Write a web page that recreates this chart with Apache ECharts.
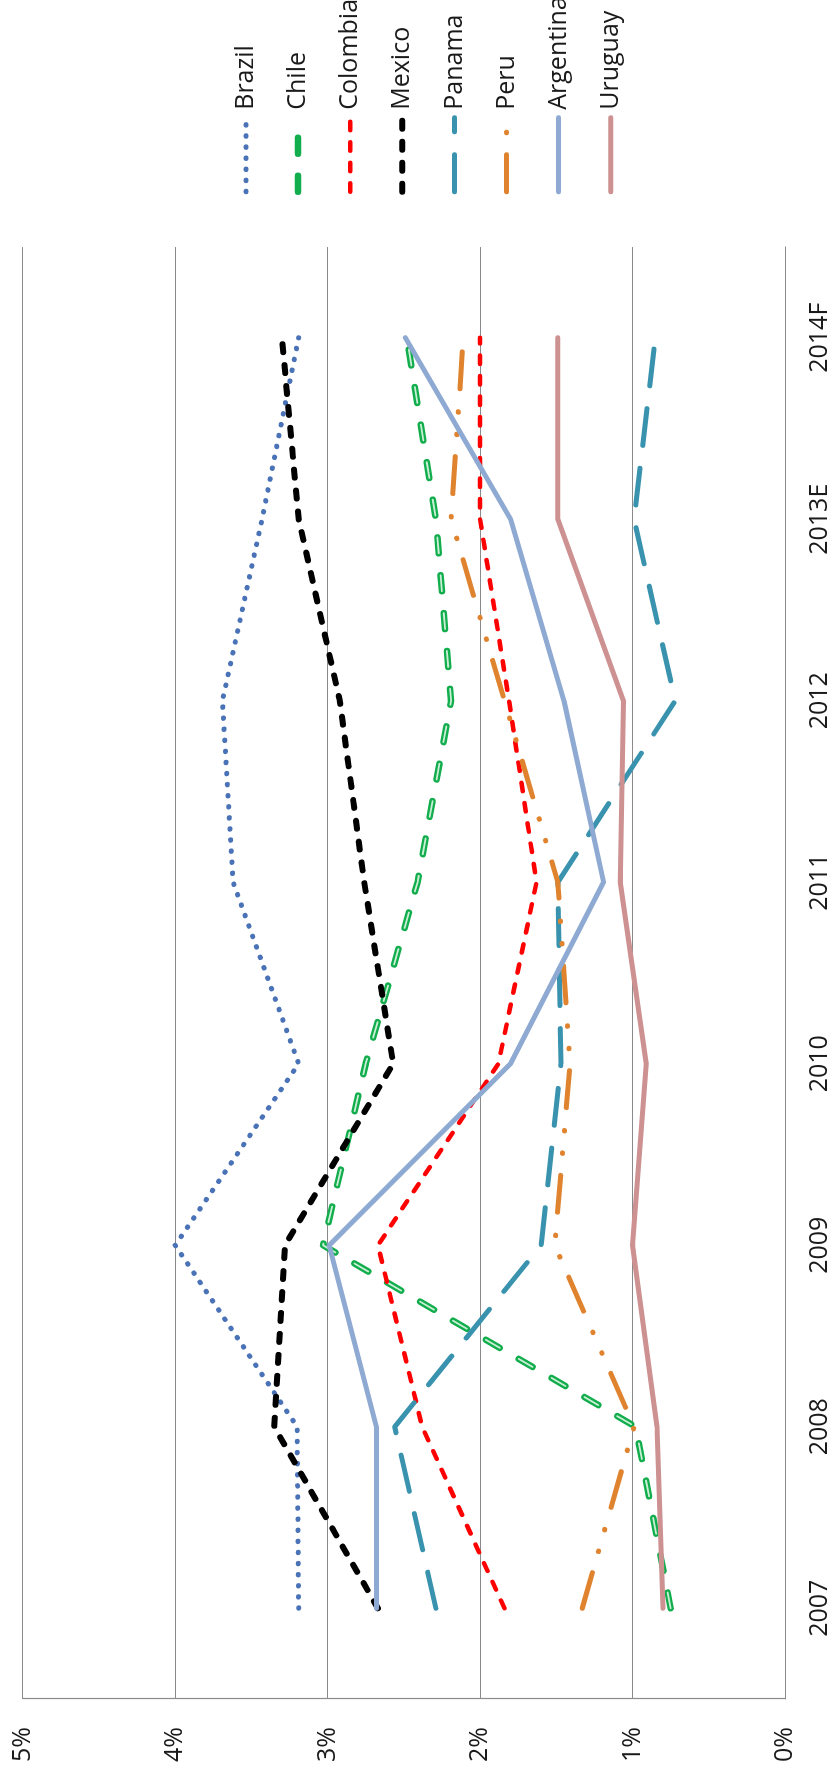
<!DOCTYPE html>
<html>
<head>
<meta charset="utf-8">
<script src="https://cdn.jsdelivr.net/npm/echarts@6/dist/echarts.min.js"></script>
<style>
html,body{margin:0;padding:0;background:#fff;width:832px;height:1776px;overflow:hidden;}
#chart{position:absolute;left:0;top:0;width:1776px;height:832px;transform-origin:0 0;transform:translate(0,1776px) rotate(-90deg);}
</style>
</head>
<body>
<div id="chart"></div>
<script>
// Data (values in %)
const categories = ['2007','2008','2009','2010','2011','2012','2013E','2014F'];
const brazil    = [3.19, 3.20, 4.00, 3.19, 3.62, 3.69, 3.43, 3.19];
const chile     = [0.75, 0.98, 3.03, 2.75, 2.41, 2.19, 2.29, 2.48];
const colombia  = [1.84, 2.38, 2.67, 1.88, 1.63, 1.81, 2.00, 2.00];
const mexico    = [2.67, 3.35, 3.28, 2.57, 2.76, 2.92, 3.19, 3.30];
const panama    = [2.29, 2.56, 1.60, 1.47, 1.49, 0.72, 0.99, 0.85];
const peru      = [1.33, 0.99, 1.51, 1.41, 1.49, 1.84, 2.19, 2.11];
const argentina = [2.68, 2.68, 2.99, 1.80, 1.19, 1.45, 1.80, 2.49];
const uruguay   = [0.80, 0.84, 1.00, 0.91, 1.08, 1.06, 1.49, 1.49];
const seriesNames = ['Brazil','Chile','Colombia','Mexico','Panama','Peru','Argentina','Uruguay'];
const valueTicks = [0, 1, 2, 3, 4, 5];

const FONT = '"Open Sans", sans-serif';
const styles = {
  Brazil:    { color: '#4a72b6', width: 5,   dash: [0.5, 10.6] },
  Chile:     { color: '#12ad4c', width: 6.5, dash: [16, 22] },
  Colombia:  { color: '#ff0000', width: 4.5, dash: [8.5, 12] },
  Mexico:    { color: '#000000', width: 6,   dash: [8, 13] },
  Panama:    { color: '#3a93ae', width: 5,   dash: [37, 23] },
  Peru:      { color: '#e0832f', width: 5,   dash: [37, 22, 0.5, 22, 0.5, 23] },
  Argentina: { color: '#8ea9d2', width: 5,   dash: 'solid' },
  Uruguay:   { color: '#cd9191', width: 5,   dash: 'solid' }
};
function mk(name, data, st, extra) {
  return Object.assign({
    name: name, type: 'line', data: data,
    symbol: 'none', showSymbol: false, animation: false,
    lineStyle: { color: st.color, width: st.width, type: st.dash, cap: 'round', join: 'round' },
    itemStyle: { color: st.color },
    emphasis: { disabled: true }
  }, extra || {});
}

const chart = echarts.init(document.getElementById('chart'), null, { width: 1776, height: 832 });
chart.setOption({
  backgroundColor: '#ffffff',
  animation: false,
  grid: { left: 77, right: 247, top: 22.7, bottom: 46, containLabel: false },
  legend: {
    orient: 'vertical',
    left: 1576, top: 228,
    itemWidth: 74, itemHeight: 26, itemGap: 26.1,
    data: seriesNames.map(n => ({
      name: n,
      itemStyle: { opacity: 0 },
      lineStyle: { color: styles[n].color, width: styles[n].width, type: styles[n].dash, cap: 'round', opacity: 1 }
    })),
    textStyle: { fontFamily: FONT, fontSize: 25, color: '#1a1a1a', lineHeight: 26, padding: [0,0,0,3] },
    selectedMode: false
  },
  xAxis: {
    type: 'category', data: categories, boundaryGap: true,
    axisLine: { show: true, lineStyle: { color: '#8a8a8a', width: 1.2 } },
    axisTick: { show: false },
    axisLabel: { interval: 0, margin: 22, fontFamily: FONT, fontSize: 25, color: '#1a1a1a' },
    splitLine: { show: false }
  },
  yAxis: {
    type: 'value', min: valueTicks[0], max: valueTicks[valueTicks.length - 1], interval: 1,
    axisLine: { show: true, lineStyle: { color: '#8a8a8a', width: 1.2 } },
    axisTick: { show: false },
    axisLabel: { margin: 28, fontFamily: FONT, fontSize: 25, color: '#1a1a1a', formatter: '{value}%' },
    splitLine: { show: true, lineStyle: { color: '#8a8a8a', width: 1.2 } }
  },
  series: [
    mk('Brazil', brazil, styles.Brazil),
    mk('Chile', chile, styles.Chile),
    mk('Chile ', chile, { color: '#c9efd5', width: 1.8, dash: [16, 22] }),
    mk('Colombia', colombia, styles.Colombia),
    mk('Mexico', mexico, styles.Mexico),
    mk('Panama', panama, styles.Panama),
    mk('Peru', peru, styles.Peru),
    mk('Argentina', argentina, styles.Argentina),
    mk('Uruguay', uruguay, styles.Uruguay)
  ]
});
</script>
</body>
</html>
